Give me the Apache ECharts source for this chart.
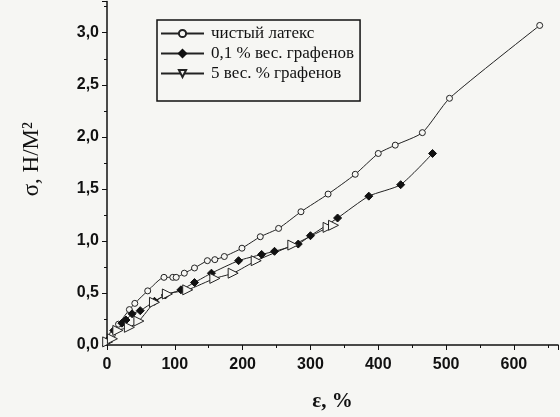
<!DOCTYPE html>
<html><head><meta charset="utf-8">
<script src="https://cdn.jsdelivr.net/npm/echarts@6/dist/echarts.min.js"></script>
<style>html,body{margin:0;padding:0;background:#f6f6f3}#c{width:560px;height:417px}</style>
</head><body><div id="c"></div>
<script>
const seriesNames = ['чистый латекс', '0,1 % вес. графенов', '5 вес. % графенов'];
const pureX = [2, 8, 17, 33, 41, 60, 84, 97, 102, 114, 129, 148, 159, 173, 199, 226, 253, 286, 326, 366, 400, 425, 465, 505, 638];
const pureY = [0.05, 0.10, 0.20, 0.34, 0.40, 0.52, 0.65, 0.65, 0.65, 0.69, 0.74, 0.81, 0.82, 0.85, 0.93, 1.04, 1.12, 1.28, 1.45, 1.64, 1.84, 1.92, 2.04, 2.37, 3.07];
const g01X = [2, 10, 22, 28, 37, 49, 70, 86, 109, 129, 154, 194, 228, 247, 282, 300, 340, 386, 433, 480];
const g01Y = [0.05, 0.14, 0.21, 0.24, 0.30, 0.33, 0.42, 0.48, 0.53, 0.60, 0.69, 0.81, 0.87, 0.90, 0.97, 1.05, 1.22, 1.43, 1.54, 1.84];
const g5X = [1, 8, 16, 33, 47, 70, 89, 119, 159, 186, 220, 274, 326, 334];
const g5Y = [0.03, 0.06, 0.14, 0.17, 0.23, 0.41, 0.49, 0.53, 0.64, 0.69, 0.81, 0.96, 1.13, 1.15];
const xTicks = [0, 100, 200, 300, 400, 500, 600];
const yTicks = ['0,0', '0,5', '1,0', '1,5', '2,0', '2,5', '3,0'];

const zip = (a, b) => a.map((v, i) => [v, b[i]]);
const bg = '#f6f6f3';
const chart = echarts.init(document.getElementById('c'));
const lbl = {color: '#111', fontFamily: 'Liberation Sans, Arial', fontWeight: 'bold', fontSize: 16};
chart.setOption({
  backgroundColor: bg,
  animation: false,
  grid: {left: 107, right: 2, top: 1.5, bottom: 68},
  xAxis: {
    type: 'value', min: 0, max: 665, interval: 100,
    axisLine: {lineStyle: {color: '#111', width: 1.5}},
    axisTick: {show: true, length: 5, lineStyle: {color: '#111'}},
    minorTick: {show: true, splitNumber: 2, length: 3, lineStyle: {color: '#111'}},
    splitLine: {show: false},
    axisLabel: Object.assign({margin: 12, showMaxLabel: false, formatter: v => xTicks.includes(v) ? String(v) : ''}, lbl),
    name: 'ε, %', nameLocation: 'middle', nameGap: 46,
    nameTextStyle: {fontFamily: 'Liberation Serif, Times New Roman', fontWeight: 'bold', fontSize: 21, color: '#111'}
  },
  yAxis: {
    type: 'value', min: 0, max: 3.3, interval: 0.5,
    axisLine: {show: true, lineStyle: {color: '#111', width: 1.5}},
    axisTick: {show: true, length: 5, lineStyle: {color: '#111'}},
    minorTick: {show: true, splitNumber: 2, length: 3, lineStyle: {color: '#111'}},
    splitLine: {show: false},
    axisLabel: Object.assign({margin: 8, formatter: v => yTicks[Math.round(v / 0.5)] || ''}, lbl),
    name: 'σ, Н/М²', nameLocation: 'middle', nameGap: 64, nameRotate: 90,
    nameTextStyle: {fontFamily: 'Liberation Serif, Times New Roman', fontSize: 23, color: '#111', padding: [0, 0, 0, 28]}
  },
  legend: {
    left: 157, top: 20,
    orient: 'vertical', itemGap: 3, itemWidth: 43, itemHeight: 9,
    padding: [5, 6, 19, 3],
    borderColor: '#111', borderWidth: 1.5, backgroundColor: bg,
    textStyle: {fontFamily: 'Liberation Serif, Times New Roman', fontSize: 17, color: '#111', padding: [0, 0, 0, 2]},
    data: [
      {name: seriesNames[0]},
      {name: seriesNames[1]},
      {name: seriesNames[2], symbolRotate: 180}
    ]
  },
  series: [
    {name: seriesNames[0], type: 'line', data: zip(pureX, pureY), symbol: 'circle', symbolSize: 6, smooth: 0.2,
     lineStyle: {color: '#222', width: 1}, itemStyle: {color: bg, borderColor: '#222', borderWidth: 1}},
    {name: seriesNames[1], type: 'line', data: zip(g01X, g01Y), symbol: 'diamond', symbolSize: 8, smooth: 0.2,
     lineStyle: {color: '#222', width: 1}, itemStyle: {color: '#111', borderColor: '#111', borderWidth: 1}},
    {name: seriesNames[2], type: 'line', data: zip(g5X, g5Y), symbol: 'triangle', symbolSize: 10, symbolRotate: -90, smooth: 0.2,
     lineStyle: {color: '#222', width: 1}, itemStyle: {color: bg, borderColor: '#222', borderWidth: 1}}
  ]
});
</script></body></html>
